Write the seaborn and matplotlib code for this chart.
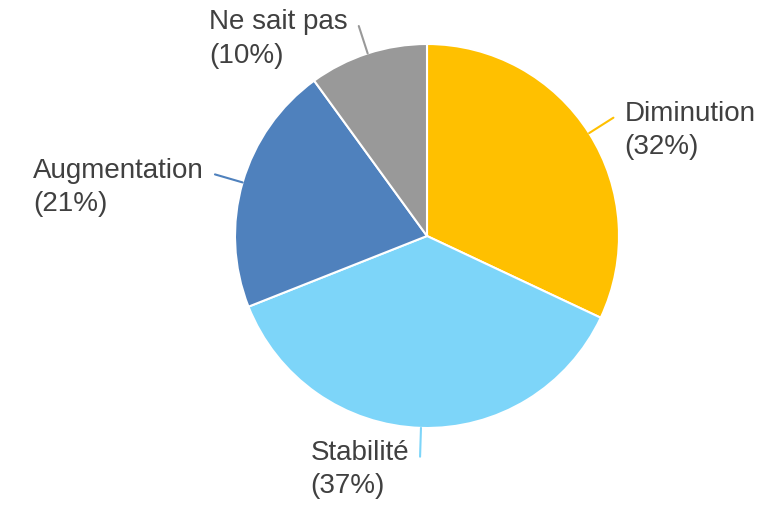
import numpy as np
import matplotlib
matplotlib.use("Agg")
import matplotlib.pyplot as plt
import seaborn as sns

# data
categories = ["Diminution", "Stabilité", "Augmentation", "Ne sait pas"]
shares = [32, 37, 21, 10]
colors = ["#FFC000", "#7DD5F9", "#4F81BD", "#999999"]

sns.set_theme(style="white")
plt.rcParams['font.family'] = ['Liberation Sans', 'DejaVu Sans']

fig = plt.figure(figsize=(7.72, 5.07), dpi=100)
ax = fig.add_axes([0, 0, 1, 1])

wedges, _ = ax.pie(shares, colors=colors, startangle=90, counterclock=False,
                   wedgeprops=dict(edgecolor="white", linewidth=1.5))

# pie radius = 192 px, centre at (427, 236) from top-left
R = 192.0
ax.set_xlim(-427 / R, (772 - 427) / R)
ax.set_ylim(-(507 - 236) / R, 236 / R)
ax.set_aspect("equal")
ax.axis("off")

for w, cat, pct, col in zip(wedges, categories, shares, colors):
    ang = np.deg2rad((w.theta1 + w.theta2) / 2)
    c, s = np.cos(ang), np.sin(ang)
    ax.plot([c * 1.0, c * 1.15], [s * 1.0, s * 1.15], color=col, lw=1.5)
    ha = "left" if c > 0 else "right"
    dx = 11 if c > 0 else -11
    ax.annotate(f"{cat}\n({pct}%)", xy=(c * 1.15, s * 1.15),
                xytext=(dx, -13), textcoords="offset pixels",
                ha=ha, va="center", multialignment="left",
                fontsize=20, color="#404040", linespacing=1.38)

fig.savefig("out.png", dpi=100)
